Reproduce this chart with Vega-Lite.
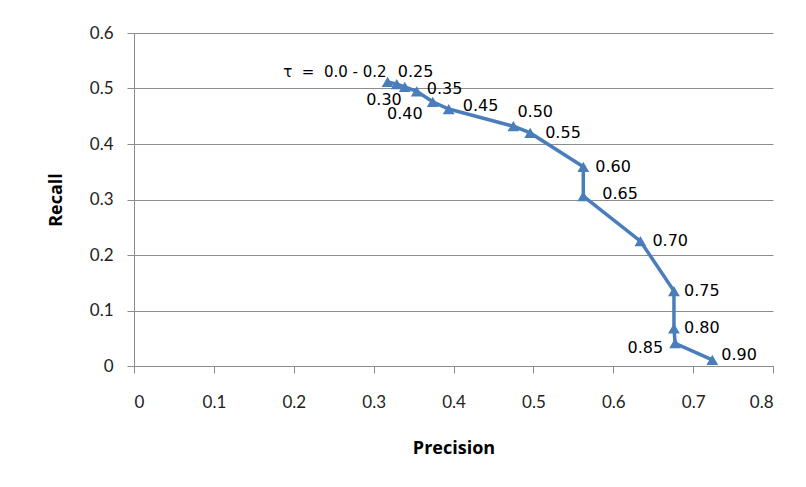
{
  "$schema": "https://vega.github.io/schema/vega-lite/v6.json",
  "autosize": "none",
  "width": 639,
  "height": 333,
  "padding": {"left": 134, "top": 33, "right": 33, "bottom": 121},
  "background": "white",
  "config": {"view": {"stroke": null}},
  "data": {"values": [
    {"tau": "τ\u00a0\u00a0=\u00a0\u00a00.0 - 0.2", "precision": 0.3175, "recall": 0.512},
    {"tau": "0.25", "precision": 0.329, "recall": 0.508},
    {"tau": "0.30", "precision": 0.339, "recall": 0.503},
    {"tau": "0.35", "precision": 0.354, "recall": 0.495},
    {"tau": "0.40", "precision": 0.374, "recall": 0.476},
    {"tau": "0.45", "precision": 0.394, "recall": 0.463},
    {"tau": "0.50", "precision": 0.475, "recall": 0.432},
    {"tau": "0.55", "precision": 0.496, "recall": 0.420},
    {"tau": "0.60", "precision": 0.5625, "recall": 0.359},
    {"tau": "0.65", "precision": 0.5625, "recall": 0.306},
    {"tau": "0.70", "precision": 0.634, "recall": 0.225},
    {"tau": "0.75", "precision": 0.676, "recall": 0.135},
    {"tau": "0.80", "precision": 0.676, "recall": 0.068},
    {"tau": "0.85", "precision": 0.6775, "recall": 0.041},
    {"tau": "0.90", "precision": 0.724, "recall": 0.011}
  ]},
  "encoding": {
    "x": {"field": "precision", "type": "quantitative",
      "scale": {"domain": [0, 0.8], "nice": false, "zero": false},
      "axis": {"title": "Precision", "values": [0,0.1,0.2,0.3,0.4,0.5,0.6,0.7,0.8], "format": "~g",
        "grid": false, "domainColor": "#8c8c8c", "tickColor": "#8c8c8c", "tickSize": 7,
        "labelFont": "Lato", "labelFontSize": 17, "labelColor": "#222", "labelPadding": 21,
        "titleFont": "Open Sans", "titleFontSize": 18, "titleFontWeight": "bold", "titleColor": "#000", "titlePadding": 29}},
    "y": {"field": "recall", "type": "quantitative",
      "scale": {"domain": [0, 0.6], "nice": false, "zero": false},
      "axis": {"title": "Recall", "values": [0,0.1,0.2,0.3,0.4,0.5,0.6], "format": "~g",
        "grid": true, "gridColor": "#8c8c8c", "gridWidth": 1, "domainColor": "#8c8c8c", "tickColor": "#8c8c8c", "tickSize": 7,
        "labelFont": "Lato", "labelFontSize": 17, "labelColor": "#222", "labelPadding": 14,
        "titleFont": "Open Sans", "titleFontSize": 18, "titleFontWeight": "bold", "titleColor": "#000", "titlePadding": 24}}
  },
  "layer": [
    {"mark": {"type": "line", "color": "#4A7EBB", "strokeWidth": 3.5}, "encoding": {"order": {"field": "recall", "type": "quantitative", "sort": "descending"}}},
    {"mark": {"type": "point", "shape": "triangle-up", "filled": true, "color": "#4A7EBB", "opacity": 1, "size": 140}},
    {"transform": [{"filter": "datum.precision < 0.32"}], "mark": {"type": "text", "font": "DejaVu Sans", "fontSize": 15, "align": "right", "dx": -1, "dy": -10, "color": "#000"}, "encoding": {"text": {"field": "tau"}}},
    {"transform": [{"filter": "datum.tau == '0.25'"}], "mark": {"type": "text", "font": "DejaVu Sans", "fontSize": 16, "align": "left", "dx": 1, "dy": -12, "color": "#000"}, "encoding": {"text": {"field": "tau"}}},
    {"transform": [{"filter": "datum.tau == '0.30'"}], "mark": {"type": "text", "font": "DejaVu Sans", "fontSize": 16, "align": "right", "dx": -3, "dy": 13, "color": "#000"}, "encoding": {"text": {"field": "tau"}}},
    {"transform": [{"filter": "datum.tau == '0.35'"}], "mark": {"type": "text", "font": "DejaVu Sans", "fontSize": 16, "align": "left", "dx": 10, "dy": -2, "color": "#000"}, "encoding": {"text": {"field": "tau"}}},
    {"transform": [{"filter": "datum.tau == '0.40'"}], "mark": {"type": "text", "font": "DejaVu Sans", "fontSize": 16, "align": "right", "dx": -10, "dy": 12, "color": "#000"}, "encoding": {"text": {"field": "tau"}}},
    {"transform": [{"filter": "datum.tau == '0.45'"}], "mark": {"type": "text", "font": "DejaVu Sans", "fontSize": 16, "align": "left", "dx": 14, "dy": -3, "color": "#000"}, "encoding": {"text": {"field": "tau"}}},
    {"transform": [{"filter": "datum.tau == '0.50'"}], "mark": {"type": "text", "font": "DejaVu Sans", "fontSize": 16, "align": "left", "dx": 4, "dy": -14, "color": "#000"}, "encoding": {"text": {"field": "tau"}}},
    {"transform": [{"filter": "datum.tau == '0.55'"}], "mark": {"type": "text", "font": "DejaVu Sans", "fontSize": 16, "align": "left", "dx": 15, "dy": 0, "color": "#000"}, "encoding": {"text": {"field": "tau"}}},
    {"transform": [{"filter": "datum.tau == '0.60' || datum.tau == '0.70'"}], "mark": {"type": "text", "font": "DejaVu Sans", "fontSize": 16, "align": "left", "dx": 12, "dy": 0, "color": "#000"}, "encoding": {"text": {"field": "tau"}}},
    {"transform": [{"filter": "datum.tau == '0.65'"}], "mark": {"type": "text", "font": "DejaVu Sans", "fontSize": 16, "align": "left", "dx": 19, "dy": -2, "color": "#000"}, "encoding": {"text": {"field": "tau"}}},
    {"transform": [{"filter": "datum.tau == '0.75' || datum.tau == '0.80'"}], "mark": {"type": "text", "font": "DejaVu Sans", "fontSize": 16, "align": "left", "dx": 10, "dy": 0, "color": "#000"}, "encoding": {"text": {"field": "tau"}}},
    {"transform": [{"filter": "datum.tau == '0.85'"}], "mark": {"type": "text", "font": "DejaVu Sans", "fontSize": 16, "align": "right", "dx": -12, "dy": 5, "color": "#000"}, "encoding": {"text": {"field": "tau"}}},
    {"transform": [{"filter": "datum.tau == '0.90'"}], "mark": {"type": "text", "font": "DejaVu Sans", "fontSize": 16, "align": "left", "dx": 9, "dy": -5, "color": "#000"}, "encoding": {"text": {"field": "tau"}}}
  ]
}
